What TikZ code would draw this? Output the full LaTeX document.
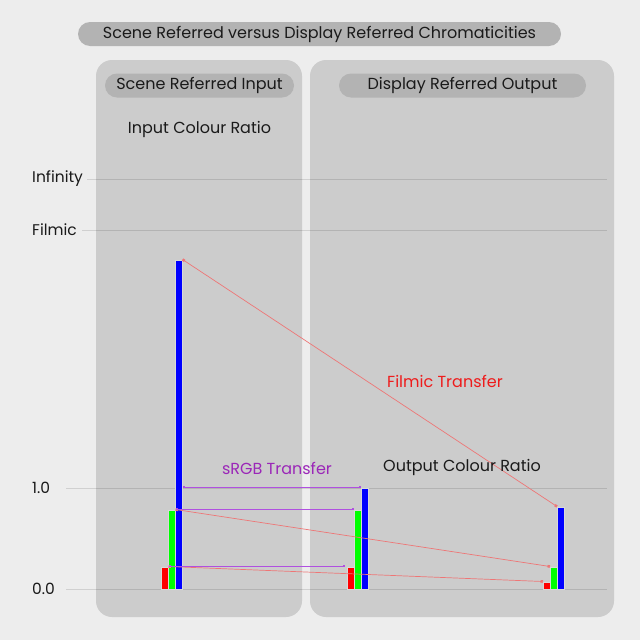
\documentclass[tikz,border=0pt]{standalone}
\usepackage{fontspec}
\setmainfont{Poppins}
\usetikzlibrary{positioning,arrows.meta}
\definecolor{bggray}{HTML}{EDEDED}
\definecolor{panelgray}{HTML}{CCCCCC}
\definecolor{pillgray}{HTML}{B3B3B3}
\definecolor{inkblack}{HTML}{1A1A1A}
\definecolor{filmicred}{HTML}{EE1C1C}
\definecolor{filmicline}{HTML}{EE7676}
\definecolor{srgbpurple}{HTML}{9B27B8}
\definecolor{srgbline}{HTML}{B050E0}
\definecolor{barred}{HTML}{FF0000}
\definecolor{bargreen}{HTML}{00FF00}
\definecolor{barblue}{HTML}{0000FF}

\begin{document}
\begin{tikzpicture}[x=1pt, y=-1pt,
      every node/.style={font=\fontsize{16}{19}\selectfont, text=inkblack},
      pill/.style={fill=pillgray, rounded corners=12pt, inner sep=0pt, minimum height=24pt},
      panel/.style={fill=panelgray, rounded corners=16pt},
      bar/.style={draw=white!70!gray, line width=0.5pt, inner sep=0pt, minimum width=7pt, anchor=south west},
      gridline/.style={black, opacity=0.12, line width=0.7pt},
      axislbl/.style={anchor=west, inner sep=0pt, font=\fontsize{15.5}{18}\selectfont},
      filmic/.style={filmicline, line width=0.7pt, {Square[length=2.5pt,width=2.5pt]}-{Square[length=2.5pt,width=2.5pt]}},
      srgb/.style={srgbline, line width=0.9pt, {Square[length=2.5pt,width=2.5pt]}-{Square[length=2.5pt,width=2.5pt]}}
    ]
      \useasboundingbox[fill=bggray] (0,0) rectangle (640,640);

      % panels
      \fill[panel] (96,60) rectangle (302,617);
      \fill[panel] (310,60) rectangle (614,617);

      % headings
      \node[pill, minimum width=483pt] (title) at (319.5,34) {Scene Referred versus Display Referred Chromaticities};
      \node[pill, minimum width=189pt] (inhead) at (199.5,85.5) {Scene Referred Input};
      \node[pill, minimum width=247pt] (outhead) at (462.5,85.5) {Display Referred Output};
      \node[below=20pt of inhead] (inratio) {Input Colour Ratio};

      % scale lines
      \foreach \y/\t/\x [count=\i] in {179/Infinity/87, 230/Filmic/82, 488/1.0/66, 589/0.0/66} {
        \node[axislbl] (lvl\i) at (32,\y) {\t};
        \draw[gridline] (\x,\y) -- (607,\y);
      }

      % scene referred bars
      \node[bar, fill=barred, minimum height=22pt] (sR) at (161,589) {};
      \node[bar, fill=bargreen, minimum height=79pt] (sG) at (168,589) {};
      \node[bar, fill=barblue, minimum height=329pt] (sB) at (175,589) {};

      % sRGB output bars
      \node[bar, fill=barred, minimum height=22pt] (oR) at (347,589) {};
      \node[bar, fill=bargreen, minimum height=79pt] (oG) at (354,589) {};
      \node[bar, fill=barblue, minimum height=101pt] (oB) at (361,589) {};

      % filmic output bars
      \node[bar, fill=barred, minimum height=7pt] (fR) at (543,589) {};
      \node[bar, fill=bargreen, minimum height=22pt] (fG) at (550,589) {};
      \node[bar, fill=barblue, minimum height=82pt] (fB) at (557,589) {};

      % transfers
      \draw[filmic] (sB.north east) -- (fB.north west);
      \draw[filmic] (sG.north east) -- (fG.north west);
      \draw[filmic] (sR.north east) -- (fR.north west);
      \draw[srgb] ([yshift=0.5pt]sB.east |- oB.north) -- ([yshift=0.5pt]oB.north west);
      \draw[srgb] ([yshift=0.5pt]sG.north east) -- ([yshift=0.5pt]oG.north west);
      \draw[srgb] ([yshift=0.5pt]sR.north east) -- ([xshift=-2pt,yshift=0.5pt]oR.north west);

      \node[text=srgbpurple] (srgblbl) at (277,468) {sRGB Transfer};
      \node (outratio) at (462,467) {Output Colour Ratio};
      \node[text=filmicred] (filmiclbl) at (445,381) {Filmic Transfer};
    \end{tikzpicture}
\end{document}
